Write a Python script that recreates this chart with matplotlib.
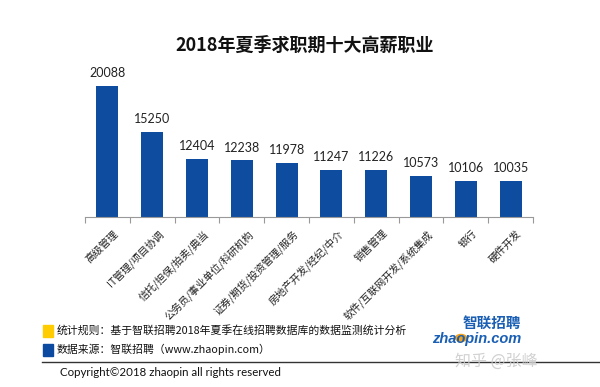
import matplotlib
matplotlib.use('Agg')
import matplotlib.pyplot as plt
from matplotlib.patches import Rectangle, Circle
from matplotlib.lines import Line2D

plt.rcParams['font.family'] = ['Noto Sans CJK SC', 'DejaVu Sans']

# data
jobs = ['高级管理', 'IT管理/项目协调', '信托/担保/拍卖/典当', '公务员/事业单位/科研机构',
        '证券/期货/投资管理/服务', '房地产开发/经纪/中介', '销售管理',
        '软件/互联网开发/系统集成', '银行', '硬件开发']
salary = [20088, 15250, 12404, 12238, 11978, 11247, 11226, 10573, 10106, 10035]

title = '2018年夏季求职期十大高薪职业'
note1 = '统计规则：基于智联招聘2018年夏季在线招聘数据库的数据监测统计分析'
note2 = '数据来源：智联招聘（www.zhaopin.com）'
copyright_txt = 'Copyright©2018 zhaopin all rights reserved'

bar_color = '#0D4C9E'

fig = plt.figure(figsize=(6, 3.87), dpi=100)
ax = fig.add_axes([85/600, 1 - 217/387, 448/600, 157/387])

x = list(range(len(jobs)))
ax.bar(x, salary, width=0.49, color=bar_color, zorder=2)
ax.set_xlim(-0.5, len(jobs) - 0.5)
ymin = 6257
ax.set_ylim(ymin, ymin + 157 / 0.00945)

for xi, v in zip(x, salary):
    ax.annotate(str(v), (xi, v), xytext=(0, 5), textcoords='offset points',
                ha='center', va='bottom', fontsize=9, family='Lato', color='#222222')

for s in ['top', 'right', 'left']:
    ax.spines[s].set_visible(False)
ax.spines['bottom'].set_color('#999999')
ax.set_yticks([])
ax.set_xticks([i - 0.5 for i in range(len(jobs) + 1)])
ax.set_xticklabels([])
ax.tick_params(axis='x', length=4, color='#999999', direction='out')

for xi, name in zip(x, jobs):
    ax.annotate(name, (xi, ymin), xytext=(4, -8), textcoords='offset points',
                rotation=45, ha='right', va='top', rotation_mode='anchor',
                fontsize=7.4, color='#222222')

fig.text(305/600, 1 - 45/387, title, ha='center', va='center',
         fontsize=13, fontweight='bold', color='#111111')

# footer
fig.patches.append(Rectangle((43/600, 1 - 337/387), 10/600, 12/387,
                             transform=fig.transFigure, color='#FFCC00'))
fig.patches.append(Rectangle((43/600, 1 - 356/387), 10/600, 12/387,
                             transform=fig.transFigure, color='#0B4AA0'))
fig.text(57/600, 1 - 330/387, note1, ha='left', va='center', fontsize=7.8, color='#111111')
fig.text(57/600, 1 - 349/387, note2, ha='left', va='center', fontsize=7.8, color='#111111')
fig.lines.append(Line2D([42/600, 1.0], [1 - 362/387, 1 - 362/387],
                        transform=fig.transFigure, color='#333333', lw=1))
fig.text(60/600, 1 - 373/387, copyright_txt, ha='left', va='center',
         fontsize=8.3, family='Lato', color='#111111')

# logo
fig.patches.append(Circle((461/600, 1 - 338/387), 5.5/600, transform=fig.transFigure,
                          color='#F5A21B'))
fig.text(521/600, 1 - 323/387, '智联招聘', ha='right', va='center', fontsize=10.5,
         fontweight='bold', style='italic', color='#1A5FB4')
fig.text(432/600, 1 - 339/387, 'zhaopin.com', ha='left', va='center', fontsize=10.5,
         fontweight='bold', style='italic', family='Liberation Sans', color='#1A5FB4')
fig.text(455/600, 1 - 361/387, '知乎 @张峰', ha='left', va='center', fontsize=11.5,
         color='#CCCCCC', alpha=0.9)

fig.savefig('out.png', dpi=100)
